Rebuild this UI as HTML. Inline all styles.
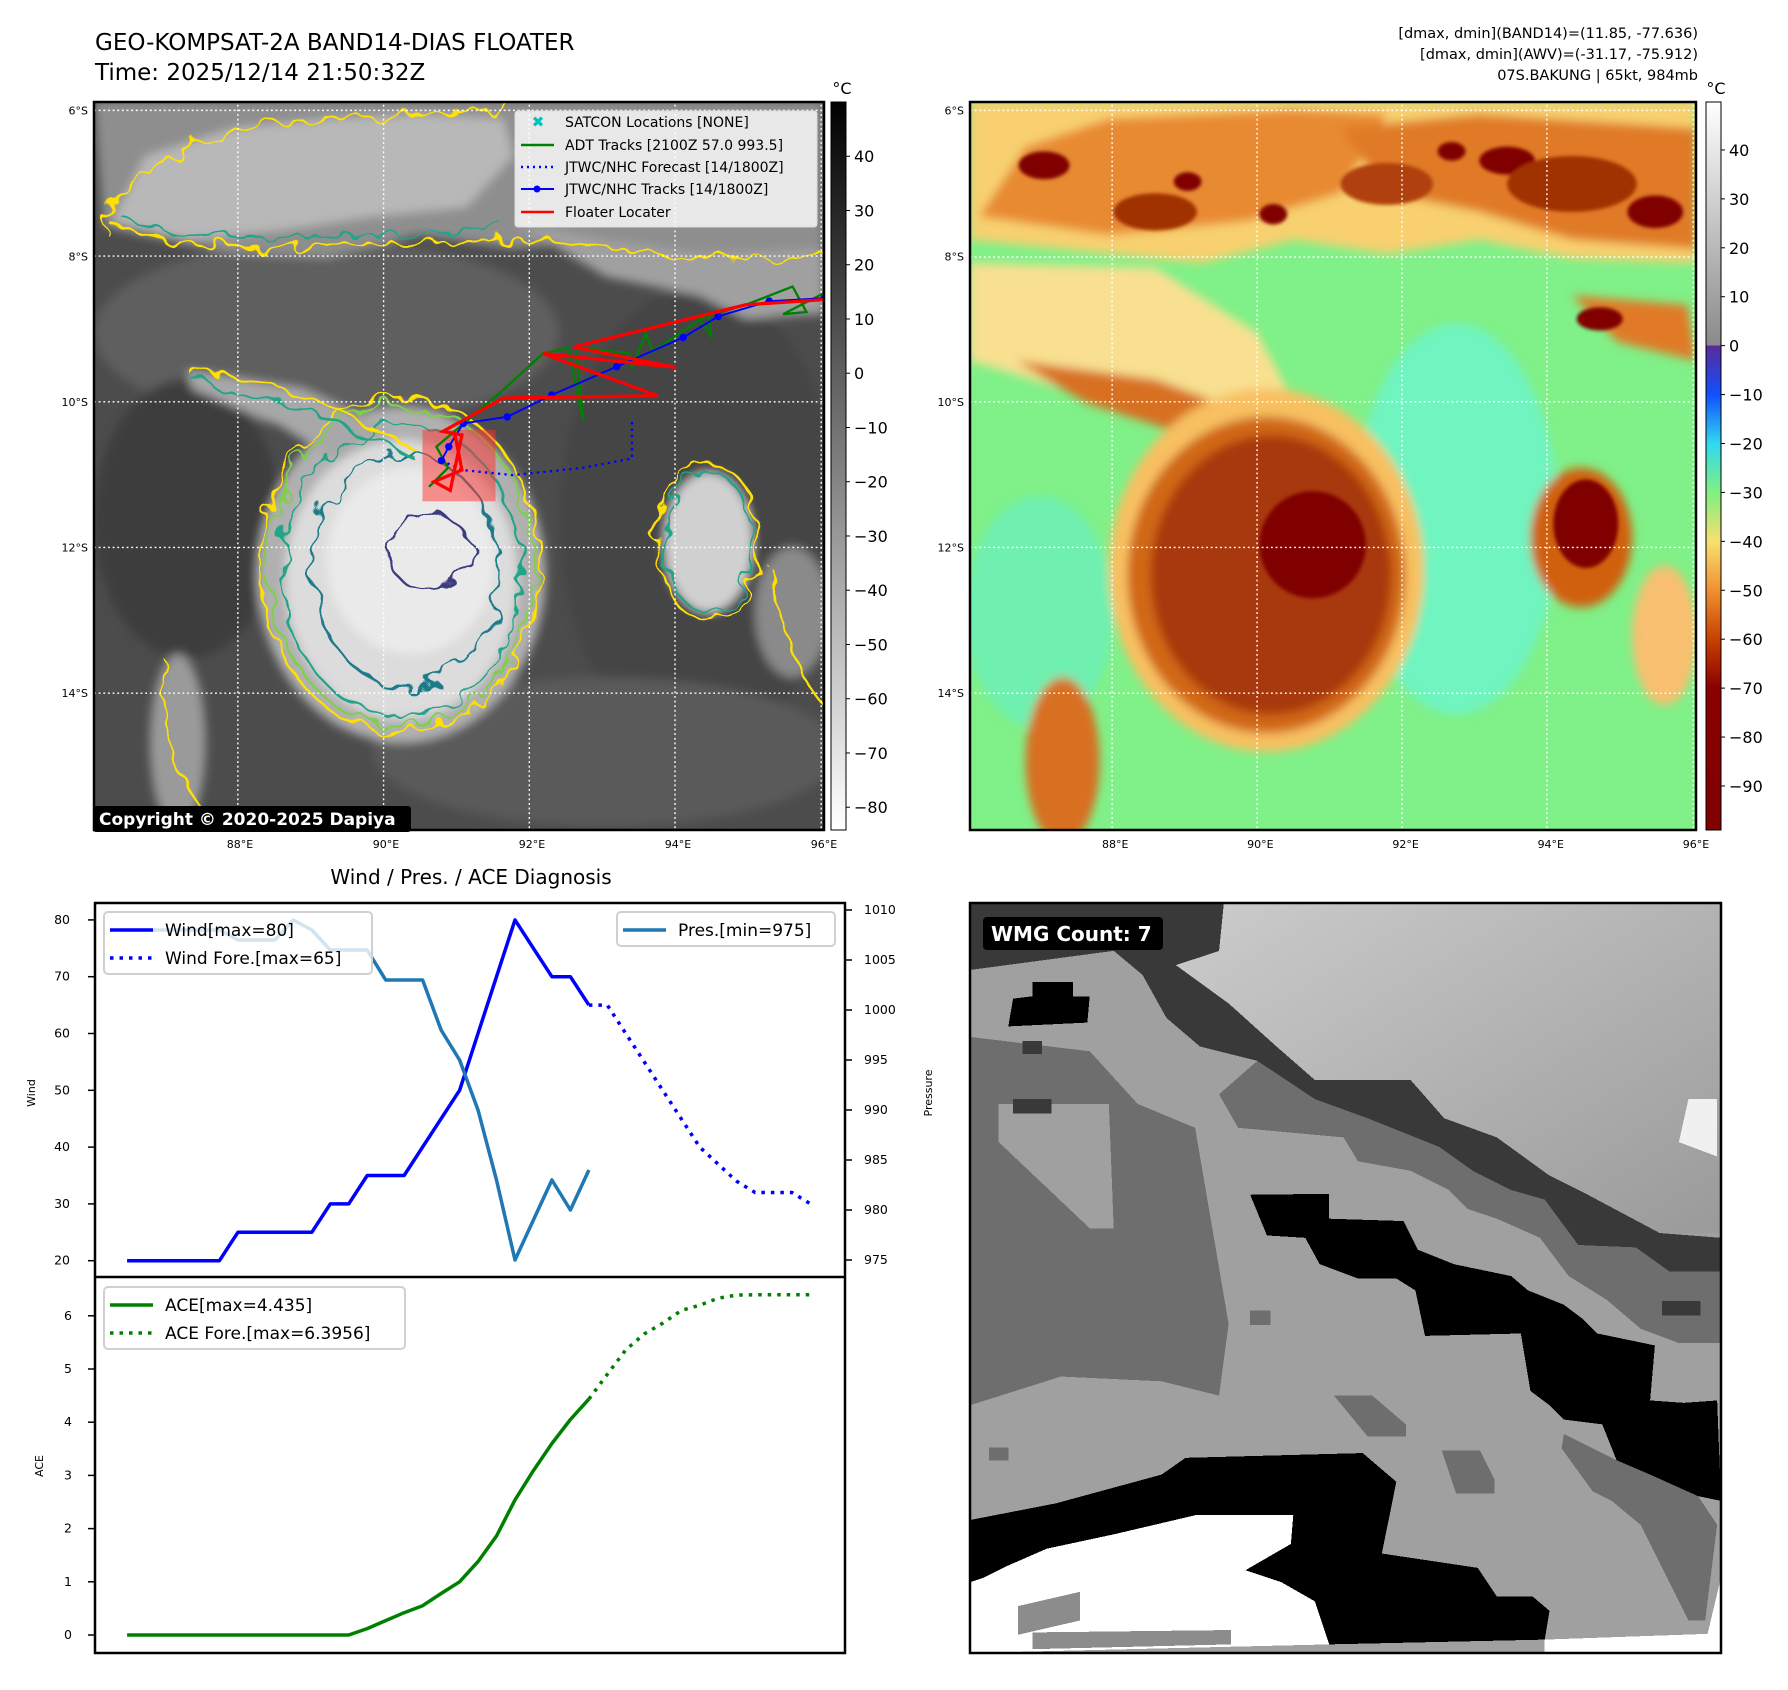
<!DOCTYPE html>
<html><head><meta charset="utf-8"><style>
html,body{margin:0;padding:0;background:#fff}
svg{display:block}
text{font-family:"DejaVu Sans","Liberation Sans",sans-serif}
</style></head><body>
<svg id="root" width="1788" height="1690" viewBox="0 0 1788 1690" xmlns="http://www.w3.org/2000/svg">
<defs>
  <filter id="blur" x="-20%" y="-20%" width="140%" height="140%"><feGaussianBlur stdDeviation="10"/></filter>
  <filter id="blurS" x="-20%" y="-20%" width="140%" height="140%"><feGaussianBlur stdDeviation="4"/></filter>
  <filter id="wob" x="-10%" y="-10%" width="120%" height="120%"><feTurbulence type="fractalNoise" baseFrequency="0.02" numOctaves="2" seed="3"/><feDisplacementMap in="SourceGraphic" scale="60"/></filter>
  <filter id="wob2" x="-10%" y="-10%" width="120%" height="120%"><feTurbulence type="fractalNoise" baseFrequency="0.03" numOctaves="2" seed="7"/><feDisplacementMap in="SourceGraphic" scale="70"/><feGaussianBlur stdDeviation="3"/></filter>
  <clipPath id="clipL"><rect x="0" y="0" width="1568" height="1568"/></clipPath>
  <linearGradient id="cbL" x1="0" y1="0" x2="0" y2="1"><stop offset="0" stop-color="#000"/><stop offset="1" stop-color="#fff"/></linearGradient>
  <linearGradient id="cbR" x1="0" y1="0" x2="0" y2="1">
    <stop offset="0" stop-color="#ffffff"/><stop offset="0.334" stop-color="#8a8a8a"/>
    <stop offset="0.335" stop-color="#5a2a9a"/><stop offset="0.402" stop-color="#1050ff"/>
    <stop offset="0.469" stop-color="#30d8f0"/><stop offset="0.536" stop-color="#80f080"/>
    <stop offset="0.604" stop-color="#f8e070"/><stop offset="0.671" stop-color="#f09030"/>
    <stop offset="0.738" stop-color="#c84000"/><stop offset="0.805" stop-color="#8b0000"/>
    <stop offset="1" stop-color="#800000"/></linearGradient>
  <linearGradient id="wmgLight" x1="0" y1="0" x2="1" y2="1"><stop offset="0" stop-color="#cccccc"/><stop offset="1" stop-color="#9a9a9a"/></linearGradient>
</defs>

<!-- titles -->
<text x="95" y="50" font-size="23">GEO-KOMPSAT-2A BAND14-DIAS FLOATER</text>
<text x="95" y="80" font-size="23">Time: 2025/12/14 21:50:32Z</text>
<g font-size="14.5" text-anchor="end">
  <text x="1698" y="38">[dmax, dmin](BAND14)=(11.85, -77.636)</text>
  <text x="1698" y="59">[dmax, dmin](AWV)=(-31.17, -75.912)</text>
  <text x="1698" y="80">07S.BAKUNG | 65kt, 984mb</text>
</g>

<!-- LEFT MAP -->
<g>
<svg x="94" y="102" width="730" height="728" viewBox="0 4 1568 1564" preserveAspectRatio="none" overflow="hidden">
  <rect x="0" y="0" width="1568" height="1568" fill="#4c4c4c"/>
  <g filter="url(#blur)">
    <ellipse cx="500" cy="500" rx="500" ry="200" fill="#5e5e5e"/>
    <ellipse cx="1300" cy="900" rx="300" ry="500" fill="#444"/>
    <ellipse cx="1100" cy="1400" rx="500" ry="160" fill="#5a5a5a"/>
    <ellipse cx="200" cy="900" rx="200" ry="300" fill="#3c3c3c"/>
    <path d="M0,0 L1568,0 L1568,330 L1300,340 L1100,300 L900,320 L700,290 L500,340 L300,330 L100,290 L20,270 Z" fill="#8e8e8e"/>
    <path d="M40,260 L110,120 L300,60 L500,40 L700,30 L880,40 L900,120 L800,230 L600,250 L400,280 L200,300 Z" fill="#b8b8b8"/>
    <path d="M900,260 L1100,300 L1300,330 L1568,320 L1568,460 L1400,470 L1300,420 L1100,380 Z" fill="#a0a0a0"/>
    <ellipse cx="660" cy="1020" rx="310" ry="360" fill="#b0b0b0"/>
    <path d="M200,580 L450,620 L620,700 L700,760 L560,800 L400,700 L210,620 Z" fill="#a8a8a8"/>
    <ellipse cx="660" cy="1030" rx="250" ry="300" fill="#dcdcdc"/>
    <ellipse cx="680" cy="990" rx="180" ry="200" fill="#eaeaea"/>
    <ellipse cx="1320" cy="950" rx="95" ry="150" fill="#d0d0d0"/>
    <ellipse cx="180" cy="1380" rx="60" ry="190" fill="#9a9a9a"/>
    <ellipse cx="1500" cy="1100" rx="80" ry="140" fill="#8a8a8a"/>
  </g>
  <g fill="none" stroke-width="5" filter="url(#wob)">
    <ellipse cx="660" cy="1000" rx="300" ry="360" stroke="#ffe000"/>
    <ellipse cx="660" cy="1000" rx="285" ry="345" stroke="#7ed04a"/>
    <ellipse cx="660" cy="1010" rx="255" ry="315" stroke="#20a488"/>
    <ellipse cx="670" cy="1010" rx="200" ry="250" stroke="#1f7a8a"/>
    <ellipse cx="720" cy="970" rx="90" ry="80" stroke="#3a3a80"/>
    <ellipse cx="1320" cy="950" rx="110" ry="170" stroke="#ffe000"/>
    <ellipse cx="1320" cy="950" rx="95" ry="150" stroke="#20a488"/>
    <path d="M20,280 C60,150 200,60 500,40 C700,30 880,40 900,0" stroke="#ffe000"/>
    <path d="M40,270 C200,330 500,320 900,300 C1100,320 1400,360 1568,330" stroke="#ffe000"/>
    <path d="M60,250 C200,310 500,300 880,270" stroke="#20a488"/>
    <path d="M200,580 C400,600 560,680 700,760" stroke="#ffe000"/>
    <path d="M210,600 C400,640 560,700 690,770" stroke="#20a488"/>
    <path d="M150,1200 C140,1350 200,1500 260,1560" stroke="#ffe000"/>
    <path d="M1450,1000 C1480,1150 1520,1250 1568,1300" stroke="#ffe000"/>
  </g>
  <g stroke="#fff" stroke-width="3" stroke-dasharray="4 6">
    <line x1="0" y1="22" x2="1568" y2="22"/><line x1="0" y1="335" x2="1568" y2="335"/>
    <line x1="0" y1="648" x2="1568" y2="648"/><line x1="0" y1="961" x2="1568" y2="961"/>
    <line x1="0" y1="1274" x2="1568" y2="1274"/>
    <line x1="309" y1="0" x2="309" y2="1568"/><line x1="622" y1="0" x2="622" y2="1568"/>
    <line x1="935" y1="0" x2="935" y2="1568"/><line x1="1248" y1="0" x2="1248" y2="1568"/>
    <line x1="1562" y1="0" x2="1562" y2="1568"/>
  </g>
  <g id="tracks"></g>
</svg>
<rect x="94" y="102" width="730" height="728" fill="none" stroke="#000" stroke-width="2.5"/>
</g>

<!-- left legend -->
<g>
  <rect x="515" y="111" width="302" height="116" rx="3" fill="#fff" fill-opacity="0.8" stroke="#ddd"/>
  <text x="538" y="127" font-size="15" fill="#00c0c0" text-anchor="middle">✖</text>
  <line x1="521" y1="145" x2="554" y2="145" stroke="#008000" stroke-width="2.5"/>
  <line x1="521" y1="167" x2="554" y2="167" stroke="#0000ff" stroke-width="2.5" stroke-dasharray="2 4"/>
  <line x1="521" y1="189" x2="554" y2="189" stroke="#0000ff" stroke-width="2"/><circle cx="537" cy="189" r="3.5" fill="#0000ff"/>
  <line x1="521" y1="212" x2="554" y2="212" stroke="#ff0000" stroke-width="2.5"/>
  <g font-size="14">
    <text x="565" y="127">SATCON Locations [NONE]</text>
    <text x="565" y="150">ADT Tracks [2100Z 57.0 993.5]</text>
    <text x="565" y="172">JTWC/NHC Forecast [14/1800Z]</text>
    <text x="565" y="194">JTWC/NHC Tracks [14/1800Z]</text>
    <text x="565" y="217">Floater Locater</text>
  </g>
</g>
<g>
  <rect x="93" y="806" width="318" height="26" rx="3" fill="#000"/>
  <text x="99" y="825" font-size="17" font-weight="bold" fill="#fff">Copyright © 2020-2025 Dapiya</text>
</g>

<!-- RIGHT MAP -->
<g>
<svg x="970" y="102" width="726" height="728" viewBox="0 4 1568 1564" preserveAspectRatio="none" overflow="hidden">
  <rect x="0" y="0" width="1568" height="1568" fill="#80f088"/>
  <g filter="url(#blur)">
    <ellipse cx="1050" cy="900" rx="220" ry="420" fill="#70f4c0"/>
    <ellipse cx="150" cy="1100" rx="160" ry="250" fill="#70f0b0"/>
    <path d="M0,0 L1568,0 L1568,350 L1300,340 L1100,300 L900,330 L700,300 L500,350 L300,330 L0,300 Z" fill="#f8d070"/>
    <path d="M0,350 L400,360 L620,500 L700,650 L500,700 L200,620 L0,560 Z" fill="#f8e090"/>
    <path d="M20,250 L120,100 L300,40 L700,20 L900,30 L800,200 L600,260 L300,290 Z" fill="#e88a30"/>
    <path d="M800,60 L1100,30 L1568,60 L1568,320 L1300,300 L1100,240 L900,200 Z" fill="#e07a28"/>
    <path d="M1300,420 L1550,440 L1568,560 L1400,520 Z" fill="#e07a28"/>
    <path d="M100,560 L400,600 L620,680 L500,730 L250,650 Z" fill="#d87020"/>
    <ellipse cx="640" cy="1010" rx="340" ry="390" fill="#f8c060"/>
    <ellipse cx="640" cy="1020" rx="300" ry="340" fill="#d06818"/>
    <ellipse cx="650" cy="1020" rx="260" ry="300" fill="#a83808"/>
    <ellipse cx="1320" cy="940" rx="110" ry="150" fill="#d06010"/>
    <ellipse cx="200" cy="1420" rx="80" ry="180" fill="#d87020"/>
    <ellipse cx="1500" cy="1150" rx="70" ry="150" fill="#f8c070"/>
  </g>
  <g filter="url(#blurS)" fill="#800000">
    <ellipse cx="740" cy="955" rx="115" ry="115"/>
    <ellipse cx="1330" cy="910" rx="70" ry="95"/>
    <ellipse cx="160" cy="140" rx="55" ry="30"/>
    <ellipse cx="470" cy="175" rx="30" ry="20"/>
    <ellipse cx="655" cy="245" rx="30" ry="22"/>
    <ellipse cx="1040" cy="110" rx="30" ry="20"/>
    <ellipse cx="1160" cy="130" rx="60" ry="30"/>
    <ellipse cx="1480" cy="240" rx="60" ry="35"/>
    <ellipse cx="1360" cy="470" rx="50" ry="25"/>
    <ellipse cx="400" cy="240" rx="90" ry="40" fill="#a03000"/>
    <ellipse cx="1300" cy="180" rx="140" ry="60" fill="#a03000"/>
    <ellipse cx="900" cy="180" rx="100" ry="45" fill="#b04010"/>
  </g>
  <g stroke="#fff" stroke-width="3" stroke-dasharray="4 6">
    <line x1="0" y1="22" x2="1568" y2="22"/><line x1="0" y1="337" x2="1568" y2="337"/>
    <line x1="0" y1="648" x2="1568" y2="648"/><line x1="0" y1="961" x2="1568" y2="961"/>
    <line x1="0" y1="1274" x2="1568" y2="1274"/>
    <line x1="307" y1="0" x2="307" y2="1568"/><line x1="620" y1="0" x2="620" y2="1568"/>
    <line x1="933" y1="0" x2="933" y2="1568"/><line x1="1246" y1="0" x2="1246" y2="1568"/>
    <line x1="1562" y1="0" x2="1562" y2="1568"/>
  </g>
</svg>
<rect x="970" y="102" width="726" height="728" fill="none" stroke="#000" stroke-width="2.5"/>
</g>

<!-- colorbars -->
<g>
  <rect x="831" y="102" width="15" height="728" fill="url(#cbL)" stroke="#000" stroke-width="1"/>
  <text x="842" y="94" font-size="16" text-anchor="middle">°C</text>
  <g id="cbLticks" font-size="16"></g>
</g>
<g>
  <rect x="1706" y="102" width="15" height="728" fill="url(#cbR)" stroke="#000" stroke-width="1"/>
  <text x="1716" y="94" font-size="16" text-anchor="middle">°C</text>
  <g id="cbRticks" font-size="16"></g>
</g>
<g id="mapLabels" font-size="11"></g>

<!-- WMG -->
<g>
<svg x="970" y="903" width="751" height="750" viewBox="0 0 1568 1568" preserveAspectRatio="none" overflow="hidden" shape-rendering="crispEdges">
  <rect width="1568" height="1568" fill="#a0a0a0"/>
  <polygon fill="#6e6e6e" points="0,280 250,310 350,420 470,470 540,880 520,1030 400,1000 190,990 0,1050"/>
  <polygon fill="#a0a0a0" points="60,420 290,420 300,680 250,680 60,500"/>
  <polygon fill="url(#wmgLight)" points="530,0 1568,0 1568,690 1440,690 1290,610 1210,570 1100,490 990,450 920,370 720,370 640,300 540,210 430,130 520,100"/>
  <polygon fill="#393939" points="0,0 530,0 520,100 430,130 540,210 640,300 720,370 920,370 990,450 1100,490 1210,570 1290,610 1440,690 1568,700 1568,770 1460,770 1390,720 1270,715 1200,620 1130,600 1050,560 980,510 830,450 720,410 640,395 600,330 480,300 410,240 360,150 300,100 0,140"/>
  <polygon fill="#6e6e6e" points="600,330 720,410 830,450 980,510 1050,560 1130,600 1200,620 1270,715 1390,720 1460,770 1568,770 1568,920 1480,920 1400,890 1330,830 1250,780 1190,700 1100,660 1040,640 1000,600 920,560 810,540 780,490 560,470 520,400"/>
  <polygon fill="#f0f0f0" points="1500,410 1560,410 1560,530 1480,500"/>
  <polygon fill="#000" points="585,610 750,608 750,660 905,665 935,725 1010,755 1130,780 1165,810 1240,840 1280,870 1310,900 1430,925 1420,1040 1490,1045 1560,1040 1568,1250 1520,1240 1420,1195 1350,1165 1320,1090 1240,1080 1210,1050 1170,1020 1150,900 950,905 930,810 890,785 810,785 730,755 700,700 620,695"/>
  <polygon fill="#6e6e6e" points="1240,1110 1350,1165 1420,1195 1520,1240 1560,1300 1535,1500 1500,1500 1440,1380 1400,1300 1340,1250 1300,1230 1235,1140"/>
  <polygon fill="#000" points="0,1290 180,1255 400,1195 450,1160 820,1150 890,1210 860,1360 1060,1390 1100,1450 1175,1450 1210,1480 1200,1540 750,1550 720,1460 650,1420 575,1395 670,1340 675,1280 470,1280 300,1320 160,1350 80,1385 30,1410 0,1420"/>
  <polygon fill="#fff" points="0,1420 30,1410 80,1385 160,1350 300,1320 470,1280 675,1280 670,1340 575,1395 650,1420 720,1460 750,1550 0,1568"/>
  <polygon fill="#8c8c8c" points="100,1470 230,1440 230,1500 100,1530"/>
  <polygon fill="#8c8c8c" points="130,1525 545,1520 545,1550 130,1560"/>
  <polygon fill="#fff" points="1200,1540 1540,1528 1568,1410 1568,1568 1200,1568"/>
  <polygon fill="#000" points="130,165 215,165 215,195 250,195 245,250 80,258 90,200 130,195"/>
  <rect x="90" y="410" width="80" height="30" fill="#393939"/>
  <rect x="110" y="288" width="40" height="28" fill="#393939"/>
  <rect x="1445" y="832" width="80" height="30" fill="#393939"/>
  <polygon fill="#6e6e6e" points="760,1030 840,1030 910,1090 910,1115 830,1115"/>
  <polygon fill="#6e6e6e" points="985,1145 1065,1145 1095,1205 1095,1235 1015,1235"/>
  <rect x="585" y="852" width="42" height="30" fill="#6e6e6e"/>
  <rect x="40" y="1138" width="40" height="28" fill="#6e6e6e"/>
</svg>
<rect x="970" y="903" width="751" height="750" fill="none" stroke="#000" stroke-width="2.5"/>
<rect x="983" y="917" width="180" height="33" rx="4" fill="#000"/>
<text x="991" y="941" font-size="20" font-weight="bold" fill="#fff">WMG Count: 7</text>
</g>

<!-- Diagnosis chart -->
<text x="471" y="884" font-size="20" text-anchor="middle">Wind / Pres. / ACE Diagnosis</text>
<g id="diag"></g>
</svg>

<script>
// ---- Diagnosis data (6-hourly index) ----
const windObs = [20,20,20,20,20,20,25,25,25,25,25,30,30,35,35,35,40,45,50,60,70,80,75,70,70,65];
const windFcst = [65,65,60,55,50,45,40,37,34,32,32,32,30];
const presObs = [1008,1008,1008,1008,1008,1008,1007,1007,1007,1009,1008,1006,1006,1006,1003,1003,1003,998,995,990,983,975,979,983,980,984];
const aceObs = [0,0,0,0,0,0,0,0,0,0,0,0,0,0.12,0.27,0.42,0.55,0.78,1.0,1.38,1.86,2.54,3.09,3.6,4.05,4.435];
const aceFcst = [4.435,4.9,5.36,5.66,5.86,6.1,6.2,6.33,6.39,6.3956,6.3956,6.3956,6.3956];
const windTicks = [20,30,40,50,60,70,80];
const presTicks = [975,980,985,990,995,1000,1005,1010];
const aceTicks = [0,1,2,3,4,5,6];
const cbLTicks = [40,30,20,10,0,-10,-20,-30,-40,-50,-60,-70,-80];
const cbRTicks = [40,30,20,10,0,-10,-20,-30,-40,-50,-60,-70,-80,-90];
const lonTicks = [88,90,92,94,96];
const latTicks = [6,8,10,12,14];
// ---- Track data (lon E, lat S) ----
const jtwcLon = [96.0,95.25,94.55,94.07,93.16,92.27,91.66,91.06,90.86,90.76];
const jtwcLat = [8.58,8.62,8.83,9.12,9.52,9.91,10.21,10.30,10.62,10.81];
const fcLon = [90.76,91.04,91.74,92.70,93.37,93.37];
const fcLat = [10.81,10.94,11.01,10.91,10.78,10.27];
const redLon = [96.0,94.93,92.57,93.97,92.15,93.72,91.61,90.78,91.04,90.88,90.66,91.04,90.94];
const redLat = [8.60,8.67,9.25,9.53,9.34,9.92,9.95,10.41,10.46,11.22,11.10,10.94,10.43];
const adtLon = [90.59,90.85,90.69,91.10,91.55,92.15,92.50,92.70,92.60,93.33,93.37,93.56,93.65,94.42,94.45,94.29,94.93,95.57,95.76,95.44,96.0];
const adtLat = [11.17,10.91,10.62,10.27,9.89,9.34,9.26,10.27,9.25,9.34,9.53,9.06,9.31,8.80,9.09,8.86,8.67,8.42,8.77,8.80,8.51];
const boxLon = [90.5,91.5];
const boxLat = [10.39,11.37];

const NS='http://www.w3.org/2000/svg';
function mk(tag, attrs, parent){const e=document.createElementNS(NS,tag);for(const k in attrs)e.setAttribute(k,attrs[k]);parent.appendChild(e);return e;}

// map projection in inner viewBox coords (1568 wide)
const mx = lon => (lon-86)*156.8;
const my = lat => 22 + (lat-6)*156.4;
const tr = document.getElementById('tracks');
function poly(lons,lats,attrs){return lons.map((l,i)=>mx(l).toFixed(1)+','+my(lats[i]).toFixed(1)).join(' ');}
const box = mk('rect',{x:mx(boxLon[0]),y:my(boxLat[0]),width:mx(boxLon[1])-mx(boxLon[0]),height:my(boxLat[1])-my(boxLat[0]),fill:'#ff3030','fill-opacity':0.5},tr);


const adt = mk('polyline',{points:poly(adtLon,adtLat),fill:'none',stroke:'#008000','stroke-width':5},tr);


const fc = mk('polyline',{points:poly(fcLon,fcLat),fill:'none',stroke:'#0000ff','stroke-width':5,'stroke-dasharray':'5 9'},tr);


const jt = mk('polyline',{points:poly(jtwcLon,jtwcLat),fill:'none',stroke:'#0000ff','stroke-width':4},tr);


jtwcLon.forEach((l,i)=>{const c=mk('circle',{cx:mx(l),cy:my(jtwcLat[i]),r:8,fill:'#0000ff'},tr);

});
const rd = mk('polyline',{points:poly(redLon,redLat),fill:'none',stroke:'#ff0000','stroke-width':7},tr);



// map tick labels
const ml = document.getElementById('mapLabels');
[[94,730,970,726]].length;
[[94,730],[970,726]].forEach(([x0,w])=>{
  lonTicks.forEach(l=>{const t=mk('text',{x:x0+(l-86)*w/10,y:848,'text-anchor':'middle'},ml);t.textContent=l+'°E';
  
  });
  latTicks.forEach(l=>{const t=mk('text',{x:x0-6,y:102+(l-5.88)*72.8+4,'text-anchor':'end'},ml);t.textContent=l+'°S';
  
  });
});
// colorbar ticks
const cl=document.getElementById('cbLticks');
cbLTicks.forEach(v=>{const y=102+(50-v)/134.2*728;mk('line',{x1:846,y1:y,x2:850,y2:y,stroke:'#000'},cl);
 const t=mk('text',{x:854,y:y+6},cl);t.textContent=v<0?'\u2212'+(-v):v;
 
 });
const cr=document.getElementById('cbRticks');
cbRTicks.forEach(v=>{const y=102+(49.8-v)/148.8*728;mk('line',{x1:1721,y1:y,x2:1725,y2:y,stroke:'#000'},cr);
 const t=mk('text',{x:1729,y:y+6},cr);t.textContent=v<0?'\u2212'+(-v):v;
 
 });

// diagnosis chart
const g=document.getElementById('diag');
const X = i => 127.1 + 18.47*i;
const YW = w => 1260.7 - (w-20)*5.68;
const YP = p => 910 + (1010-p)*10;
const YA = a => 1635 - a*53.2;
const pts=(arr,f,off)=>arr.map((v,i)=>X(i+off).toFixed(1)+','+f(v).toFixed(1)).join(' ');
function line(arr,f,off,color,dash,name){const e=mk('polyline',{points:pts(arr,f,off),fill:'none',stroke:color,'stroke-width':3.5,'stroke-linejoin':'round'},g);
 if(dash)e.setAttribute('stroke-dasharray',dash);
 
 }
line(windObs,YW,0,'#0000ff',null,'wind-line');
line(windFcst,YW,windObs.length-1,'#0000ff','3.5 6','wind-forecast-line');
line(presObs,YP,0,'#1f77b4',null,'pressure-line');
line(aceObs,YA,0,'#008000',null,'ace-line');
line(aceFcst,YA,aceObs.length-1,'#008000','3.5 6','ace-forecast-line');
// frames
mk('rect',{x:95,y:903,width:750,height:750,fill:'none',stroke:'#000','stroke-width':2.5},g);
mk('line',{x1:95,y1:1277,x2:845,y2:1277,stroke:'#000','stroke-width':2.5},g);
windTicks.forEach(v=>{const y=YW(v);mk('line',{x1:88,y1:y,x2:95,y2:y,stroke:'#000','stroke-width':1.5},g);
 const t=mk('text',{x:70,y:y+4,'font-size':12.5,'text-anchor':'end'},g);t.textContent=v;
 
 });
presTicks.forEach(v=>{const y=YP(v);mk('line',{x1:845,y1:y,x2:852,y2:y,stroke:'#000','stroke-width':1.5},g);
 const t=mk('text',{x:864,y:y+4,'font-size':12.5},g);t.textContent=v;
 
 });
aceTicks.forEach(v=>{const y=YA(v);mk('line',{x1:88,y1:y,x2:95,y2:y,stroke:'#000','stroke-width':1.5},g);
 const t=mk('text',{x:72,y:y+4,'font-size':12.5,'text-anchor':'end'},g);t.textContent=v;
 
 });
function label(txt,x,y,name){const t=mk('text',{x:x,y:y,'font-size':11,'text-anchor':'middle',transform:'rotate(-90 '+x+' '+y+')'},g);t.textContent=txt;
 
 }
label('Wind',35,1093,'wind-axis-title');
label('Pressure',932,1093,'pressure-axis-title');
label('ACE',43,1466,'ace-axis-title');
// legends
function legend(x,y,w,h,items,name){const lg=mk('g',{},g);
 
 
 mk('rect',{x:x,y:y,width:w,height:h,rx:4,fill:'#fff','fill-opacity':0.8,stroke:'#d0d0d0','stroke-width':2},lg);
 items.forEach((it,i)=>{const yy=y+18+i*28;
  const ln=mk('line',{x1:x+6,y1:yy,x2:x+49,y2:yy,stroke:it[1],'stroke-width':3.5},lg);
  if(it[2])ln.setAttribute('stroke-dasharray','3.5 6');
  const t=mk('text',{x:x+61,y:yy+6,'font-size':17},lg);t.textContent=it[0];});}
legend(104,912,268,62,[['Wind[max=80]','#0000ff',0],['Wind Fore.[max=65]','#0000ff',1]],'wind-legend');
legend(617,912,218,34,[['Pres.[min=975]','#1f77b4',0]],'pressure-legend');
legend(104,1287,301,62,[['ACE[max=4.435]','#008000',0],['ACE Fore.[max=6.3956]','#008000',1]],'ace-legend');
</script>
</body></html>
